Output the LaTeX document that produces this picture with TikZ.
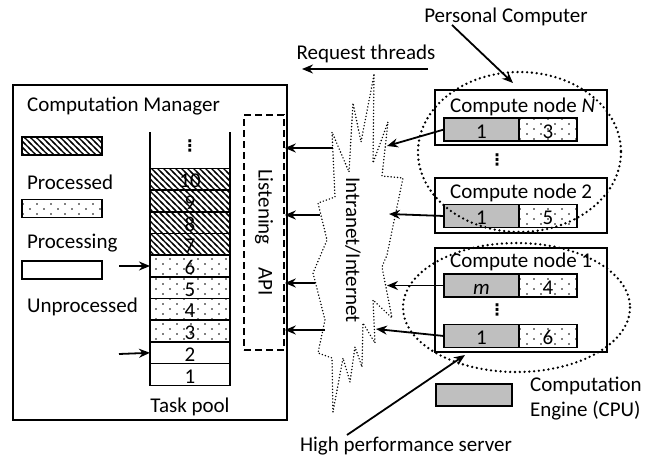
\documentclass[tikz,border=0pt]{standalone}
\usepackage{fontspec}
\setmainfont{Carlito}
\newfontfamily\symfont{DejaVu Sans}
\usetikzlibrary{shapes, arrows.meta, positioning, patterns}

\pgfdeclarepatternformonly{taskhatch}{\pgfqpoint{-1pt}{-1pt}}{\pgfqpoint{4pt}{4pt}}{\pgfqpoint{3pt}{3pt}}{%
  \pgfsetlinewidth{0.55pt}
  \pgfpathmoveto{\pgfqpoint{-1pt}{4pt}}
  \pgfpathlineto{\pgfqpoint{4pt}{-1pt}}
  \pgfusepath{stroke}}
\pgfdeclarepatternformonly{taskdots}{\pgfqpoint{-1pt}{-1pt}}{\pgfqpoint{8pt}{6pt}}{\pgfqpoint{7pt}{5pt}}{%
  \pgfpathcircle{\pgfqpoint{1pt}{1pt}}{0.45pt}
  \pgfpathcircle{\pgfqpoint{4.5pt}{3.5pt}}{0.45pt}
  \pgfusepath{fill}}

\tikzstyle{frame} = [rectangle, draw=black, thick, inner sep=0pt]
\tikzstyle{cell} = [rectangle, draw=black, thick, minimum width=40pt, minimum height=10.85pt, inner sep=0pt, outer sep=0pt, text height=8.5pt, text depth=0pt]
\tikzstyle{done} = [cell, pattern=taskhatch]
\tikzstyle{busy} = [cell, pattern=taskdots]
\tikzstyle{engine} = [rectangle, draw=black, thick, fill=black!25, minimum width=37.5pt, minimum height=11.5pt, inner sep=0pt, outer sep=0pt, text height=8.5pt, text depth=0pt]
\tikzstyle{count} = [engine, fill=none, pattern=taskdots, minimum width=29pt]
\tikzstyle{computer} = [rectangle, draw=black, thick, minimum width=86pt, inner sep=0pt]
\tikzstyle{apibox} = [rectangle, draw=black, thick, dash pattern=on 3.5pt off 2pt, inner sep=0pt]
\tikzstyle{group} = [line width=1.3pt, dash pattern=on 0pt off 2.4pt, line cap=round]
\tikzstyle{netline} = [line width=0.8pt, dash pattern=on 0pt off 1.6pt, line cap=round]
\tikzstyle{vdot} = [inner sep=0pt, font=\symfont\bfseries\fontsize{8}{8}\selectfont]
\tikzstyle{edge} = [line width=0.9pt, -{Stealth[length=5.5pt, width=4.5pt]}]

\begin{document}
\begin{tikzpicture}[x=0.5pt, y=-0.5pt, font=\fontsize{10.5}{12.5}\selectfont]
\useasboundingbox (0,0) rectangle (655,461);

% computation manager
\node (cm) [frame, minimum width=137pt, minimum height=167.5pt] at (150,252.5) {};
\node (cmtext) [anchor=west] at (20,106) {Computation Manager};
\node (lg1) [frame, pattern=taskhatch, minimum width=40pt, minimum height=9pt] at (62,146) {};
\node (lg1text) [anchor=west] at (20,182) {Processed};
\node (lg2) [frame, pattern=taskdots, minimum width=40pt, minimum height=9pt] at (62,208.5) {};
\node (lg2text) [anchor=west] at (20,243) {Processing};
\node (lg3) [frame, minimum width=40pt, minimum height=9pt] at (62,270) {};
\node (lg3text) [anchor=west] at (20,307) {Unprocessed};

% task pool
\node (t1) [cell] at (190,374.5) {1};
\node (t2) [cell, above=0pt of t1] {2};
\node (t3) [busy, above=0pt of t2] {3};
\node (t4) [busy, above=0pt of t3] {4};
\node (t5) [busy, above=0pt of t4] {5};
\node (t6) [busy, above=0pt of t5] {6};
\node (t7) [done, above=0pt of t6] {7};
\node (t8) [done, above=0pt of t7] {8};
\node (t9) [done, above=0pt of t8] {9};
\node (t10) [done, above=0pt of t9] {10};
\draw [thick] (t10.north west) -- +(0,-36);
\draw [thick] (t10.north east) -- +(0,-36);
\node (tdots) [vdot] at (190,146) {⋮};
\node (pool) at (190,407) {Task pool};
\coordinate (p6) at (119,266);
\coordinate (p2) at (119,354);
\draw [edge] (p6) -- (t6.west);
\draw [edge] (p2) -- (t2.west);

% listening api
\node (api) [apibox, minimum width=20pt, minimum height=117.5pt] at (264,232.5) {\rotatebox{-90}{Listening\hspace{4mm}API}};

% intranet / internet
\draw [netline] (374,75) -- (373,163) -- (388,122) -- (382,176) -- (403,178) -- (387,255)
  -- (382,267) -- (392,318) -- (373,300) -- (375,343) -- (363,323) -- (362,367) -- (355,347)
  -- (350,382) -- (343,358) -- (333,412) -- (332,358) -- (318,353) -- (325,320) -- (313,273)
  -- (327,240) -- (318,203) -- (335,197) -- (332,132) -- (349,172) -- (353,103) -- (361,142) -- cycle;
\node (net) [rotate=-90] at (353,250) {Intranet/Internet};
\coordinate (a1) at (333,148);
\coordinate (a2) at (320,215);
\coordinate (a3) at (315,283);
\coordinate (a4) at (325,330);
\draw [edge] (a1) -- (a1 -| api.east);
\draw [edge] (a2) -- (a2 -| api.east);
\draw [edge] (a3) -- (a3 -| api.east);
\draw [edge] (a4) -- (a4 -| api.east);

% request threads
\node (req) at (366,54) {Request threads};
\coordinate (r0) at (428,69);
\coordinate (r1) at (302,69);
\draw [edge] (r0) -- (r1);

% compute nodes
\node (cnN) [computer, minimum height=27.5pt] at (521,117.5) {};
\node (cnNtext) [anchor=west] at (443,107) {Compute node \textit{N}};
\node (eN) [engine] at (481.5,129.5) {1};
\node (kN) [count, right=0pt of eN] {3};
\node (ndots) [vdot] at (497,160) {⋮};

\node (cn2) [computer, minimum height=27.5pt] at (521,205.5) {};
\node (cn2text) [anchor=west] at (443,193) {Compute node 2};
\node (e2) [engine] at (481.5,216) {1};
\node (k2) [count, right=0pt of e2] {5};

\node (cn1) [computer, minimum height=52pt] at (521,300) {};
\node (cn1text) [anchor=west] at (443,262) {Compute node 1};
\node (em) [engine] at (481.5,285.5) {\textit{m}};
\node (km) [count, right=0pt of em] {4};
\node (edots) [vdot] at (497,310) {⋮};
\node (e1) [engine] at (481.5,336) {1};
\node (k1) [count, right=0pt of e1] {6};

\coordinate (wN) at (387,146);
\coordinate (w2) at (389,214);
\coordinate (wm) at (387,285.5);
\coordinate (w1) at (376,329);
\draw [edge] (eN.west) -- (wN);
\draw [edge] (e2.west) -- (w2);
\draw [edge] (em.west) -- (wm);
\draw [edge] (e1.west) -- (w1);

% groups
\draw [group] (519.5,152) ellipse [x radius=101.5, y radius=80];
\draw [group] (516.5,307.5) ellipse [x radius=113.5, y radius=64.5];
\node (pc) at (506,17) {Personal Computer};
\coordinate (pc0) at (452,25);
\coordinate (pc1) at (513,83);
\draw [edge] (pc0) -- (pc1);
\node (hps) at (406,446) {High performance server};
\coordinate (hp0) at (347,435);
\coordinate (hp1) at (465,355);
\draw [edge] (hp0) -- (hp1);

% legend
\node (lgcpu) [engine, minimum width=38pt, minimum height=11pt] at (474,395) {};
\node (lgcputext) [anchor=west, align=left] at (523,399) {Computation\\Engine (CPU)};

\end{tikzpicture}
\end{document}
